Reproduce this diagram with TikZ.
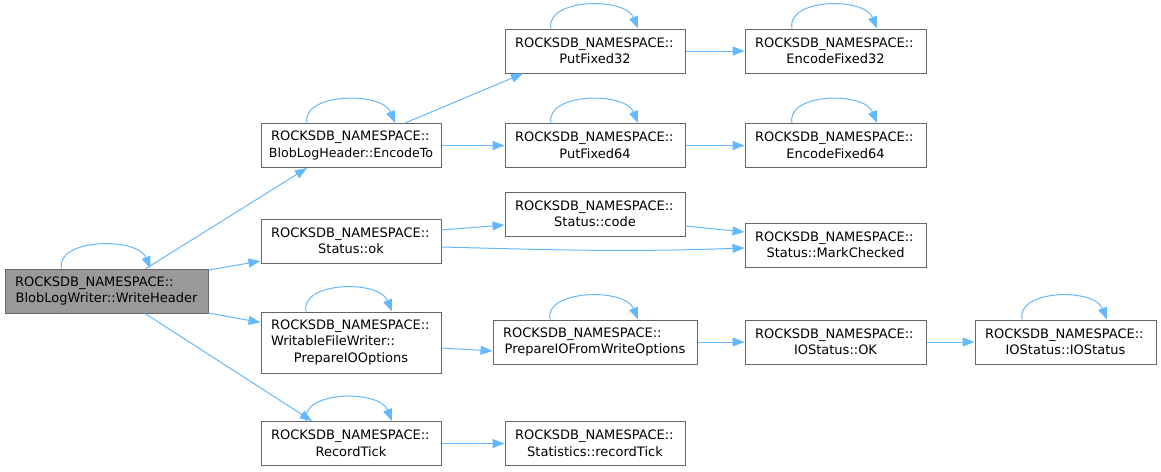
\documentclass[tikz,border=0pt]{standalone}
\usepackage{fontspec}
\setmainfont{DejaVu Sans}
\usetikzlibrary{arrows.meta}
\definecolor{edgeblue}{HTML}{63B8FF}
\definecolor{boxgray}{HTML}{666666}
\definecolor{curfill}{HTML}{999999}
\newcommand{\LL}[1]{\makebox[\hsize][l]{#1}}
\newcommand{\CC}[1]{\makebox[\hsize][c]{#1}}
\newcommand{\selfloop}[3]{%
  \draw[call] ([xshift=#2pt]#1.north) .. controls ([xshift=#2pt-6pt,yshift=30pt]#1.north) and ([xshift=#3pt-13pt,yshift=32pt]#1.north) .. ([xshift=#3pt]#1.north);}
\tikzset{
  fn/.style={draw=boxgray, fill=white, line width=1pt, align=center,
    inner xsep=10pt, inner ysep=0pt, minimum height=44pt, text width=160pt,
    font=\fontsize{13pt}{16.5pt}\selectfont},
  call/.style={draw=edgeblue, line width=1pt, -{Triangle[length=12pt,width=9pt]}},
}
\begin{document}
\begin{tikzpicture}[x=1pt,y=-1pt]
\useasboundingbox (0,0) rectangle (1161,471);
% nodes
\node[fn, fill=curfill, text width=183pt] (wh) at (106.5,291) {\LL{ROCKSDB\_NAMESPACE::}\\BlobLogWriter::WriteHeader};
\node[fn] (et) at (351,145.5) {\LL{ROCKSDB\_NAMESPACE::}\\\CC{\fontsize{12.6pt}{16.5pt}\selectfont BlobLogHeader::EncodeTo}};
\node[fn] (ok) at (351,241) {\LL{ROCKSDB\_NAMESPACE::}\\Status::ok};
\node[fn, minimum height=61pt] (pio) at (351,342.5) {\LL{ROCKSDB\_NAMESPACE::}\\\LL{WritableFileWriter::}\\PrepareIOOptions};
\node[fn] (rt) at (351,443.5) {\LL{ROCKSDB\_NAMESPACE::}\\RecordTick};
\node[fn] (p32) at (595,51) {\LL{ROCKSDB\_NAMESPACE::}\\PutFixed32};
\node[fn] (p64) at (595,145.5) {\LL{ROCKSDB\_NAMESPACE::}\\PutFixed64};
\node[fn] (code) at (595,214) {\LL{ROCKSDB\_NAMESPACE::}\\Status::code};
\node[fn, text width=184pt] (pfw) at (595,342) {\LL{ROCKSDB\_NAMESPACE::}\\PrepareIOFromWriteOptions};
\node[fn] (srt) at (595,443.5) {\LL{ROCKSDB\_NAMESPACE::}\\Statistics::recordTick};
\node[fn, text width=161pt] (e32) at (835.5,51) {\LL{ROCKSDB\_NAMESPACE::}\\EncodeFixed32};
\node[fn, text width=161pt] (e64) at (835.5,145.5) {\LL{ROCKSDB\_NAMESPACE::}\\EncodeFixed64};
\node[fn, text width=161pt] (mc) at (835.5,245) {\LL{ROCKSDB\_NAMESPACE::}\\Status::MarkChecked};
\node[fn, text width=161pt] (iok) at (835.5,342) {\LL{ROCKSDB\_NAMESPACE::}\\IOStatus::OK};
\node[fn, text width=161pt] (ios) at (1065.5,342) {\LL{ROCKSDB\_NAMESPACE::}\\IOStatus::IOStatus};
% self loops
\selfloop{wh}{-45}{44}
\selfloop{et}{-44}{44}
\selfloop{p32}{-44}{43}
\selfloop{p64}{-44}{43}
\selfloop{e32}{-43.5}{41.5}
\selfloop{e64}{-43.5}{41.5}
\selfloop{pio}{-45}{41}
\selfloop{pfw}{-45}{43}
\selfloop{ios}{-43.5}{41.5}
\selfloop{rt}{-45}{41}
% calls
\draw[call] ([xshift=39.5pt]wh.north) -- ([xshift=-44pt]et.south);
\draw[call] ([yshift=21pt]wh.east) -- ([yshift=-20pt]ok.west);
\draw[call] ([yshift=-22pt]wh.east) -- ([yshift=20pt]pio.west);
\draw[call] ([xshift=38.5pt]wh.south) -- ([xshift=-39pt]rt.north);
\draw[call] ([xshift=54pt]et.north) -- ([xshift=-72pt]p32.south);
\draw[call] (et.east) -- (p64.west);
\draw[call] (p32.east) -- (e32.west);
\draw[call] (p64.east) -- (e64.west);
\draw[call] ([yshift=11pt]ok.east) -- ([yshift=-11pt]code.west);
\draw[call] ([yshift=-6pt]ok.east) to[out=-1.5,in=182] ([yshift=-3pt]mc.west);
\draw[call] ([yshift=-12pt]code.east) -- ([yshift=13pt]mc.west);
\draw[call] ([yshift=-5.5pt]pio.east) -- ([yshift=-9pt]pfw.west);
\draw[call] (pfw.east) -- (iok.west);
\draw[call] (iok.east) -- (ios.west);
\draw[call] (rt.east) -- (srt.west);
\end{tikzpicture}
\end{document}
